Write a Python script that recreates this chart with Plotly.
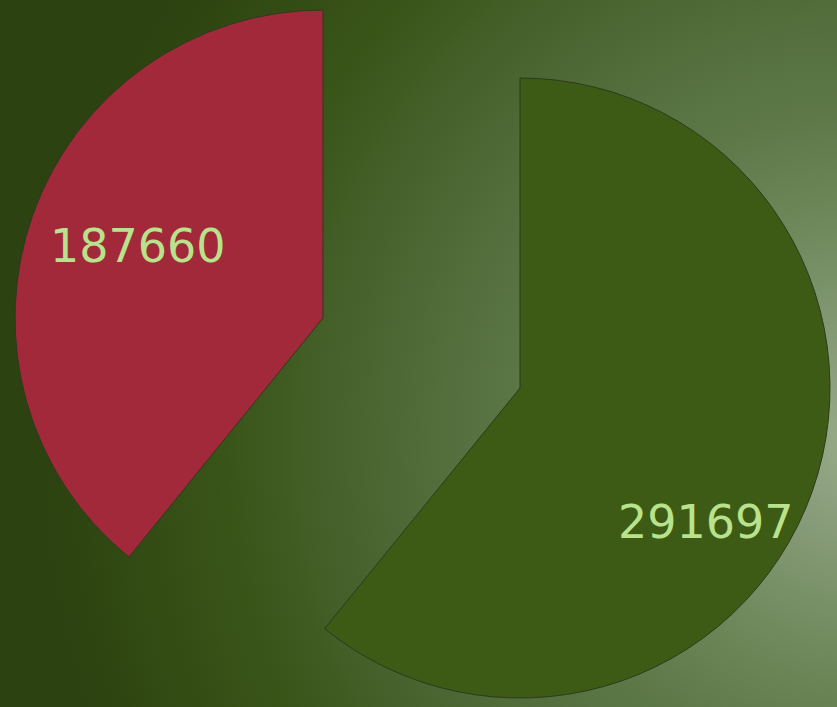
import base64
import plotly.graph_objects as go

# ---- data ----
labels = ["Series A", "Series B"]
values = [291697, 187660]
value_text = ["291697", "187660"]

# ---- styling ----
W, H = 837, 707
slice_colors = ["#3E5B16", "#A2293A"]
line_color = "#2B3A1E"
text_color = "#B8E38C"
font_family = "DejaVu Sans, Verdana, sans-serif"

# background: radial glow (SVG data URI used as a layout image)
svg = f"""<svg xmlns='http://www.w3.org/2000/svg' width='{W}' height='{H}' viewBox='0 0 {W} {H}'>
<defs>
<radialGradient id='g' gradientUnits='userSpaceOnUse' cx='865' cy='440' r='820'>
<stop offset='0' stop-color='#9BAE8B'/>
<stop offset='0.0875' stop-color='#8C9F7E'/>
<stop offset='0.25' stop-color='#718B5E'/>
<stop offset='0.4' stop-color='#5E7848'/>
<stop offset='0.49' stop-color='#56713F'/>
<stop offset='0.66' stop-color='#45602A'/>
<stop offset='0.775' stop-color='#3A5518'/>
<stop offset='1' stop-color='#2C4210'/>
</radialGradient>
</defs>
<rect x='0' y='0' width='{W}' height='{H}' fill='url(#g)'/>
</svg>"""
bg_uri = "data:image/svg+xml;base64," + base64.b64encode(svg.encode()).decode()

fig = go.Figure()

# main (green) slice drawn in its own pie, the other slice transparent
fig.add_trace(go.Pie(
    labels=labels, values=values, sort=False, direction="clockwise", rotation=0,
    domain=dict(x=[210 / W, 830 / W], y=[9 / H, 629 / H]),
    marker=dict(colors=[slice_colors[0], "rgba(0,0,0,0)"],
                line=dict(color=[line_color, "rgba(0,0,0,0)"], width=1)),
    textinfo="none", hoverinfo="label+value", showlegend=False,
))
# pulled-out (red) slice
fig.add_trace(go.Pie(
    labels=labels, values=values, sort=False, direction="clockwise", rotation=0,
    domain=dict(x=[15 / W, 631 / W], y=[81 / H, 697 / H]),
    marker=dict(colors=["rgba(0,0,0,0)", slice_colors[1]],
                line=dict(color=["rgba(0,0,0,0)", line_color], width=1)),
    textinfo="none", hoverinfo="label+value", showlegend=False,
))

label_pos = [(706 / W, 1 - 522 / H), (138 / W, 1 - 246 / H)]
for txt, (x, y) in zip(value_text, label_pos):
    fig.add_annotation(x=x, y=y, xref="paper", yref="paper", text=txt,
                       showarrow=False, xanchor="center", yanchor="middle",
                       font=dict(family=font_family, size=46, color=text_color))

fig.update_layout(
    width=W, height=H,
    margin=dict(l=0, r=0, t=0, b=0),
    paper_bgcolor="#2F4A10",
    plot_bgcolor="rgba(0,0,0,0)",
    images=[dict(source=bg_uri, xref="paper", yref="paper", x=0, y=1,
                 sizex=1, sizey=1, sizing="stretch", layer="below",
                 xanchor="left", yanchor="top")],
)

fig.write_html("out.html",
               config={"displayModeBar": False},
               post_script="document.body.style.margin='0';document.body.style.overflow='hidden';")
